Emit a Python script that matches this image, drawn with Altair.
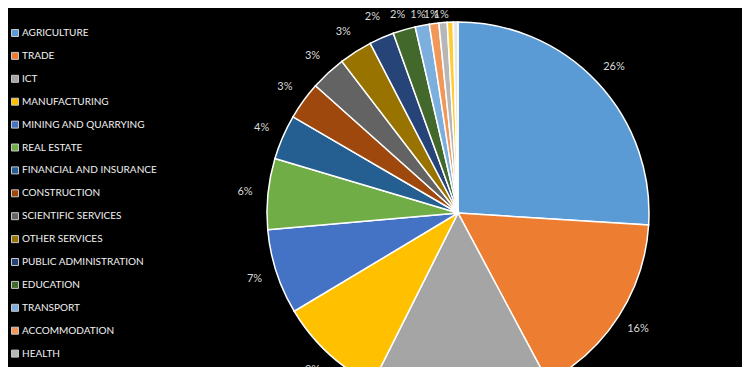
import altair as alt
import pandas as pd

sectors = [
    "AGRICULTURE", "TRADE", "ICT", "MANUFACTURING", "MINING AND QUARRYING",
    "REAL ESTATE", "FINANCIAL AND INSURANCE", "CONSTRUCTION", "SCIENTIFIC SERVICES",
    " OTHER SERVICES", "PUBLIC ADMINISTRATION", "EDUCATION", "TRANSPORT",
    "ACCOMMODATION", "HEALTH", "ELECTRICITY", "WATER SUPPLY",
]
shares = [26.0, 16.2, 15.2, 9.0, 7.2, 6.0, 3.8, 3.2, 3.0, 2.8, 2.1, 1.9, 1.2, 0.8, 0.7, 0.5, 0.4]
colors = [
    "#5B9BD5", "#ED7D31", "#A5A5A5", "#FFC000", "#4472C4", "#70AD47", "#255E91",
    "#9E480E", "#636363", "#997300", "#264478", "#43682B", "#7CAFDD", "#F1975A",
    "#B7B7B7", "#FFCD33", "#E7E6E6",
]
labelled = 15  # slices that carry a percentage label

df = pd.DataFrame({"sector": sectors, "value": shares, "idx": list(range(len(sectors)))})

CX, CY, R = 450, 205, 191
LR = 214
YMIN = 7

base = alt.Chart(df)

pie = base.mark_arc(radius=R, stroke="white", strokeWidth=1.5).encode(
    theta=alt.Theta("value:Q", stack=True),
    order=alt.Order("idx:Q"),
    color=alt.Color(
        "sector:N",
        sort=sectors,
        scale=alt.Scale(domain=sectors, range=colors),
        legend=alt.Legend(
            title=None, orient="none", legendX=2, legendY=20, padding=0,
            symbolType="square", symbolSize=49, symbolStrokeColor="#c8c8c8",
            symbolStrokeWidth=1, labelColor="#f2f2f2", labelFont="Lato",
            labelFontSize=10, rowPadding=10.9, labelOffset=2, symbolLimit=0,
        ),
    ),
    x=alt.value(CX),
    y=alt.value(CY),
)

labels = base.transform_window(
    cum="sum(value)", sort=[alt.SortField("idx")], frame=[None, 0]
).transform_joinaggregate(
    total="sum(value)"
).transform_calculate(
    ang="(datum.cum - datum.value/2) / datum.total * 2 * PI",
    lx=f"{CX} + {LR} * sin(datum.ang)",
    ly=f"max({YMIN}, {CY} - {LR} * cos(datum.ang))",
    pct="datum.value / datum.total",
).transform_filter(
    f"datum.idx < {labelled}"
).mark_text(font="Lato", fontSize=11, color="#d9d9d9").encode(
    x=alt.X("lx:Q", scale=None),
    y=alt.Y("ly:Q", scale=None),
    text=alt.Text("pct:Q", format=".0%"),
)

chart = alt.layer(pie, labels).properties(
    width=734, height=359, padding=0,
    autosize=alt.AutoSizeParams(type="none"),
).configure(background="black").configure_view(stroke=None)

chart.save("out.html", embed_options={"renderer": "svg", "actions": False})
